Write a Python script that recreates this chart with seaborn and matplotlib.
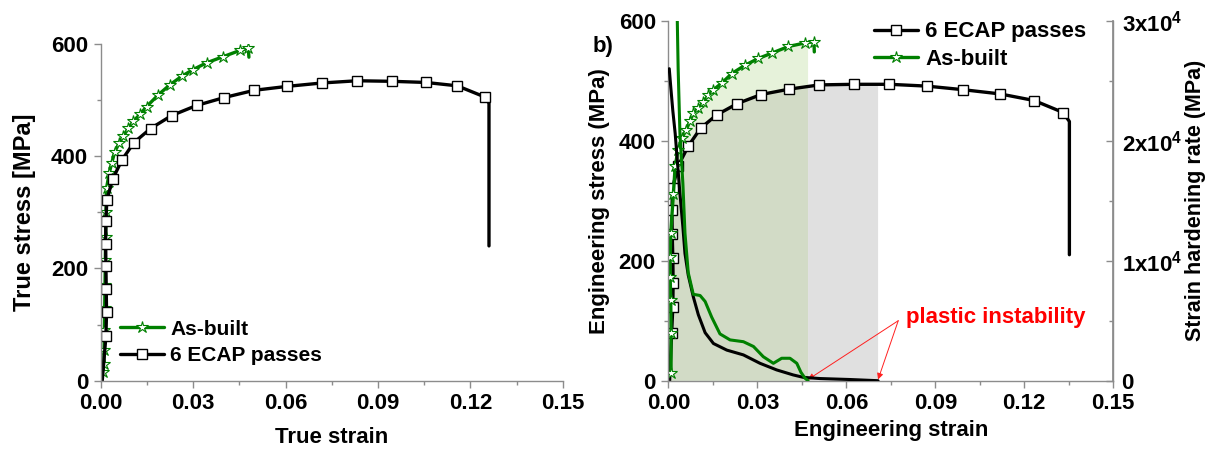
import numpy as np
import matplotlib
matplotlib.use("Agg")
import matplotlib.pyplot as plt
from matplotlib.ticker import MultipleLocator, FixedLocator, FixedFormatter
import seaborn as sns

sns.set_theme(style="white")
plt.rcParams["font.family"] = ["Liberation Sans", "DejaVu Sans"]
plt.rcParams["font.weight"] = "bold"
plt.rcParams["axes.labelweight"] = "bold"
plt.rcParams["text.color"] = "black"
plt.rcParams["axes.labelcolor"] = "black"
plt.rcParams["xtick.labelcolor"] = "black"
plt.rcParams["ytick.labelcolor"] = "black"
plt.rcParams["mathtext.fontset"] = "custom"
plt.rcParams["mathtext.bf"] = "Liberation Sans:bold"
plt.rcParams["mathtext.rm"] = "Liberation Sans:bold"

GREEN = "#008000"
BLACK = "#000000"

# ---- (a) true stress-strain ----
true_ecap_strain = [0.0005, 0.0017, 0.0019, 0.0018, 0.0017, 0.0016, 0.0017, 0.0020, 0.0039, 0.0069,
                    0.0108, 0.0162, 0.0230, 0.0311, 0.0400, 0.0498, 0.0605, 0.0717, 0.0832, 0.0946,
                    0.1055, 0.1157, 0.1247, 0.1260, 0.1260]
true_ecap_stress = [0, 79, 122, 164, 204, 243, 284, 322, 359, 393,
                    424, 449, 472, 490, 504, 517, 524, 530, 534, 533,
                    531, 525, 505, 494, 240]

true_built_strain = [0.0008, 0.0010, 0.0011, 0.0012, 0.0013, 0.0014, 0.0015, 0.0016, 0.0017, 0.0019,
                     0.0028, 0.0036, 0.0046, 0.0060, 0.0073, 0.0090, 0.0106, 0.0127, 0.0149, 0.0187,
                     0.0225, 0.0263, 0.0300, 0.0344, 0.0398, 0.0452, 0.0479, 0.0481]
true_built_stress = [15, 30, 55, 90, 130, 170, 215, 255, 300, 343,
                     370, 388, 408, 423, 435, 450, 462, 474, 488, 509,
                     527, 542, 554, 566, 577, 588, 592, 576]

# ---- (b) engineering stress-strain ----
eng_ecap_strain = [0.0004, 0.0011, 0.0015, 0.0016, 0.0015, 0.0013, 0.0012, 0.0014, 0.0033, 0.0067,
                   0.0109, 0.0163, 0.0233, 0.0313, 0.0408, 0.0509, 0.0626, 0.0745, 0.0871, 0.0994,
                   0.1118, 0.1233, 0.1331, 0.1352, 0.1352]
eng_ecap_stress = [0, 79, 123, 163, 204, 244, 284, 321, 358, 391,
                   421, 443, 462, 477, 486, 493, 494, 494, 491, 485,
                   478, 467, 447, 432, 210]

eng_built_strain = [0.0009, 0.0009, 0.0008, 0.0006, 0.0006, 0.0008, 0.0017, 0.0023, 0.0033, 0.0046,
                    0.0060, 0.0073, 0.0084, 0.0101, 0.0118, 0.0135, 0.0152, 0.0180, 0.0214, 0.0259,
                    0.0303, 0.0349, 0.0405, 0.0461, 0.0491, 0.0492]
eng_built_stress = [13, 79, 134, 173, 207, 246, 312, 358, 385, 405,
                    418, 433, 446, 454, 465, 476, 485, 496, 512, 526,
                    537, 546, 557, 563, 565, 548]

# strain hardening rate (MPa)
hr_ecap_strain = [0.0003, 0.0008, 0.0015, 0.0023, 0.0030, 0.0039, 0.0049, 0.0056, 0.0067, 0.0084,
                  0.0101, 0.0124, 0.0152, 0.0197, 0.0253, 0.0309, 0.0365, 0.0421, 0.0455, 0.0511,
                  0.0612, 0.0707]
hr_ecap_rate = [26000, 24500, 22500, 20600, 18400, 15600, 12800, 10600, 8800, 7000,
                5500, 4000, 3100, 2550, 2150, 1450, 900, 480, 280, 180,
                100, 0]

hr_built_strain = [0.0029, 0.0033, 0.0039, 0.0049, 0.0056, 0.0067, 0.0084, 0.0107, 0.0124, 0.0146,
                   0.0174, 0.0208, 0.0253, 0.0287, 0.0320, 0.0354, 0.0382, 0.0410, 0.0433, 0.0447,
                   0.0461, 0.0471]
hr_built_rate = [31500, 26000, 20600, 16400, 12300, 9000, 7200, 7100, 6600, 5300,
                 3900, 3400, 3250, 2850, 2000, 1450, 1870, 1870, 1450, 700,
                 200, 0]

instab_built = 0.0471
instab_ecap = 0.0707

x_ticks = [0.00, 0.03, 0.06, 0.09, 0.12, 0.15]
x_ticklabels = ["0.00", "0.03", "0.06", "0.09", "0.12", "0.15"]
y_ticks = [0, 200, 400, 600]
rate_ticks = [0, 10000, 20000, 30000]
rate_ticklabels = ["0", r"1x10$^{\mathbf{4}}$", r"2x10$^{\mathbf{4}}$", r"3x10$^{\mathbf{4}}$"]

TICK = 16
LABEL = 16
SPINE = "#8c8c8c"

fig = plt.figure(figsize=(12.13, 4.49), dpi=100)
axA = fig.add_axes([0.0830, 0.1521, 0.3811, 0.7506])
axB = fig.add_axes([0.5510, 0.1521, 0.3668, 0.8018])


def style_axes(ax):
    for side in ["top", "right"]:
        ax.spines[side].set_visible(False)
    for side in ["left", "bottom"]:
        ax.spines[side].set_color(SPINE)
        ax.spines[side].set_linewidth(1.0)
    ax.set_xlim(0, 0.15)
    ax.set_ylim(0, 600)
    ax.xaxis.set_major_locator(FixedLocator(x_ticks))
    ax.xaxis.set_major_formatter(FixedFormatter(x_ticklabels))
    ax.xaxis.set_minor_locator(MultipleLocator(0.015))
    ax.yaxis.set_major_locator(FixedLocator(y_ticks))
    ax.yaxis.set_minor_locator(MultipleLocator(100))
    ax.tick_params(which="both", direction="out", color=SPINE, width=1.0,
                   labelsize=TICK, labelcolor="black", bottom=True, left=True)
    ax.tick_params(which="major", length=5, pad=4)
    ax.tick_params(which="minor", length=3)
    for lab in ax.get_xticklabels() + ax.get_yticklabels():
        lab.set_fontweight("bold")


def curve(ax, x, y, color, marker, mfc, ms, mew, every, lw, label):
    sns.lineplot(x=x, y=y, ax=ax, sort=False, estimator=None, color=color, lw=lw,
                 marker=marker, markersize=ms, markerfacecolor=mfc,
                 markeredgecolor=color if marker == "*" else BLACK,
                 markeredgewidth=mew, markevery=every, label=label, legend=False)


def region(x, y, x0, x1):
    x = np.asarray(x, float)
    y = np.asarray(y, float)
    keep = (x >= x0) & (x <= x1)
    px, py = list(x[keep]), list(y[keep])
    if x1 < x.max():
        # stress at the boundary strain on the monotonic plastic branch
        j = np.argmax(x > x1)
        px.append(x1)
        py.append(y[j - 1] + (y[j] - y[j - 1]) * (x1 - x[j - 1]) / (x[j] - x[j - 1]))
    if x0 > 0:
        j = np.argmax(x >= x0)
        px.insert(0, x0)
        py.insert(0, y[j - 1] + (y[j] - y[j - 1]) * (x0 - x[j - 1]) / (x[j] - x[j - 1]))
    return np.r_[px, x1, x0], np.r_[py, 0, 0]


# ---------- panel (a) ----------
style_axes(axA)
curve(axA, true_built_strain, true_built_stress, GREEN, "*", "white", 9, 0.8,
      list(range(0, len(true_built_strain) - 1)), 2.4, "As-built")
curve(axA, true_ecap_strain, true_ecap_stress, BLACK, "s", "white", 7.5, 1.0,
      list(range(1, len(true_ecap_strain) - 2)), 2.4, "6 ECAP passes")
hA = axA.get_lines()
legA = axA.legend(handles=[hA[0], hA[1]], labels=["As-built", "6 ECAP passes"],
                  loc="lower left", bbox_to_anchor=(0.015, 0.01), frameon=False,
                  fontsize=15, handlelength=2.1, handletextpad=0.3, labelspacing=0.35,
                  borderaxespad=0.2, markerscale=1.0)
for t in legA.get_texts():
    t.set_fontweight("bold")
axA.set_xlabel("True strain", fontsize=LABEL, fontweight="bold", labelpad=9)
axA.set_ylabel("True stress [MPa]", fontsize=LABEL + 1, fontweight="bold", labelpad=11)

# ---------- panel (b) ----------
style_axes(axB)
axB.spines["right"].set_visible(True)
axB.spines["right"].set_color(SPINE)

fx, fy = region(eng_built_strain, eng_built_stress, 0.0, instab_built)
axB.fill(fx, fy, color="#e6f2da", lw=0, zorder=0.5)
fx, fy = region(eng_ecap_strain, eng_ecap_stress, 0.0, instab_built)
axB.fill(fx, fy, color="#d2dbc6", lw=0, zorder=0.6)
fx, fy = region(eng_ecap_strain, eng_ecap_stress, instab_built, instab_ecap)
axB.fill(fx, fy, color="#e0e0e0", lw=0, zorder=0.6)

curve(axB, eng_ecap_strain, eng_ecap_stress, BLACK, "s", "white", 7.5, 1.0,
      list(range(1, len(eng_ecap_strain) - 2)), 2.4, "6 ECAP passes")
curve(axB, eng_built_strain, eng_built_stress, GREEN, "*", "white", 9, 0.8,
      list(range(0, len(eng_built_strain) - 1)), 2.4, "As-built")

axR = axB.twinx()
axR.set_position(axB.get_position())
sns.lineplot(x=hr_ecap_strain, y=hr_ecap_rate, ax=axR, sort=False, estimator=None,
             color=BLACK, lw=2.2, legend=False)
sns.lineplot(x=hr_built_strain, y=hr_built_rate, ax=axR, sort=False, estimator=None,
             color=GREEN, lw=2.2, legend=False)
axR.set_ylim(0, 30000)
axR.set_xlim(0, 0.15)
for side in ["top", "left", "bottom"]:
    axR.spines[side].set_visible(False)
axR.spines["right"].set_color(SPINE)
axR.spines["right"].set_linewidth(1.0)
axR.yaxis.set_major_locator(FixedLocator(rate_ticks))
axR.yaxis.set_major_formatter(FixedFormatter(rate_ticklabels))
axR.yaxis.set_minor_locator(MultipleLocator(5000))
axR.tick_params(axis="y", which="both", direction="in", color=SPINE, width=1.0,
                labelsize=TICK, labelcolor="black", right=True, pad=6)
axR.tick_params(axis="y", which="major", length=5)
axR.tick_params(axis="y", which="minor", length=3)
for lab in axR.get_yticklabels():
    lab.set_fontweight("bold")
axR.set_ylabel("Strain hardening rate (MPa)", fontsize=15.5, fontweight="bold", labelpad=2)

hB = axB.get_lines()
legB = axB.legend(handles=[hB[0], hB[1]], labels=["6 ECAP passes", "As-built"],
                  loc="upper left", bbox_to_anchor=(0.432, 1.035), frameon=False,
                  fontsize=16, handlelength=2.0, handletextpad=0.3, labelspacing=0.3,
                  borderaxespad=0.2)
for t in legB.get_texts():
    t.set_fontweight("bold")
    t.set_color("black")
for t in legA.get_texts():
    t.set_color("black")
axB.set_xlabel("Engineering strain", fontsize=LABEL, fontweight="bold", labelpad=4)
axB.set_ylabel("Engineering stress (MPa)", fontsize=LABEL, fontweight="bold", labelpad=6)

# plastic instability markers
arrow = dict(arrowstyle="-|>", color="#ff2020", lw=0.7, mutation_scale=9, shrinkA=0, shrinkB=0)
axB.annotate("", xy=(instab_built, 2), xytext=(0.0775, 100), arrowprops=arrow)
axB.annotate("", xy=(instab_ecap, 2), xytext=(0.0775, 100), arrowprops=arrow)
axB.text(0.0800, 105, "plastic instability", color="#ff0000", fontsize=16,
         fontweight="bold", ha="left", va="center")

fig.text(0.506, 0.897, "b)", fontsize=16, fontweight="bold", ha="right", va="center",
         color="black")

fig.savefig("out.png", dpi=100)
